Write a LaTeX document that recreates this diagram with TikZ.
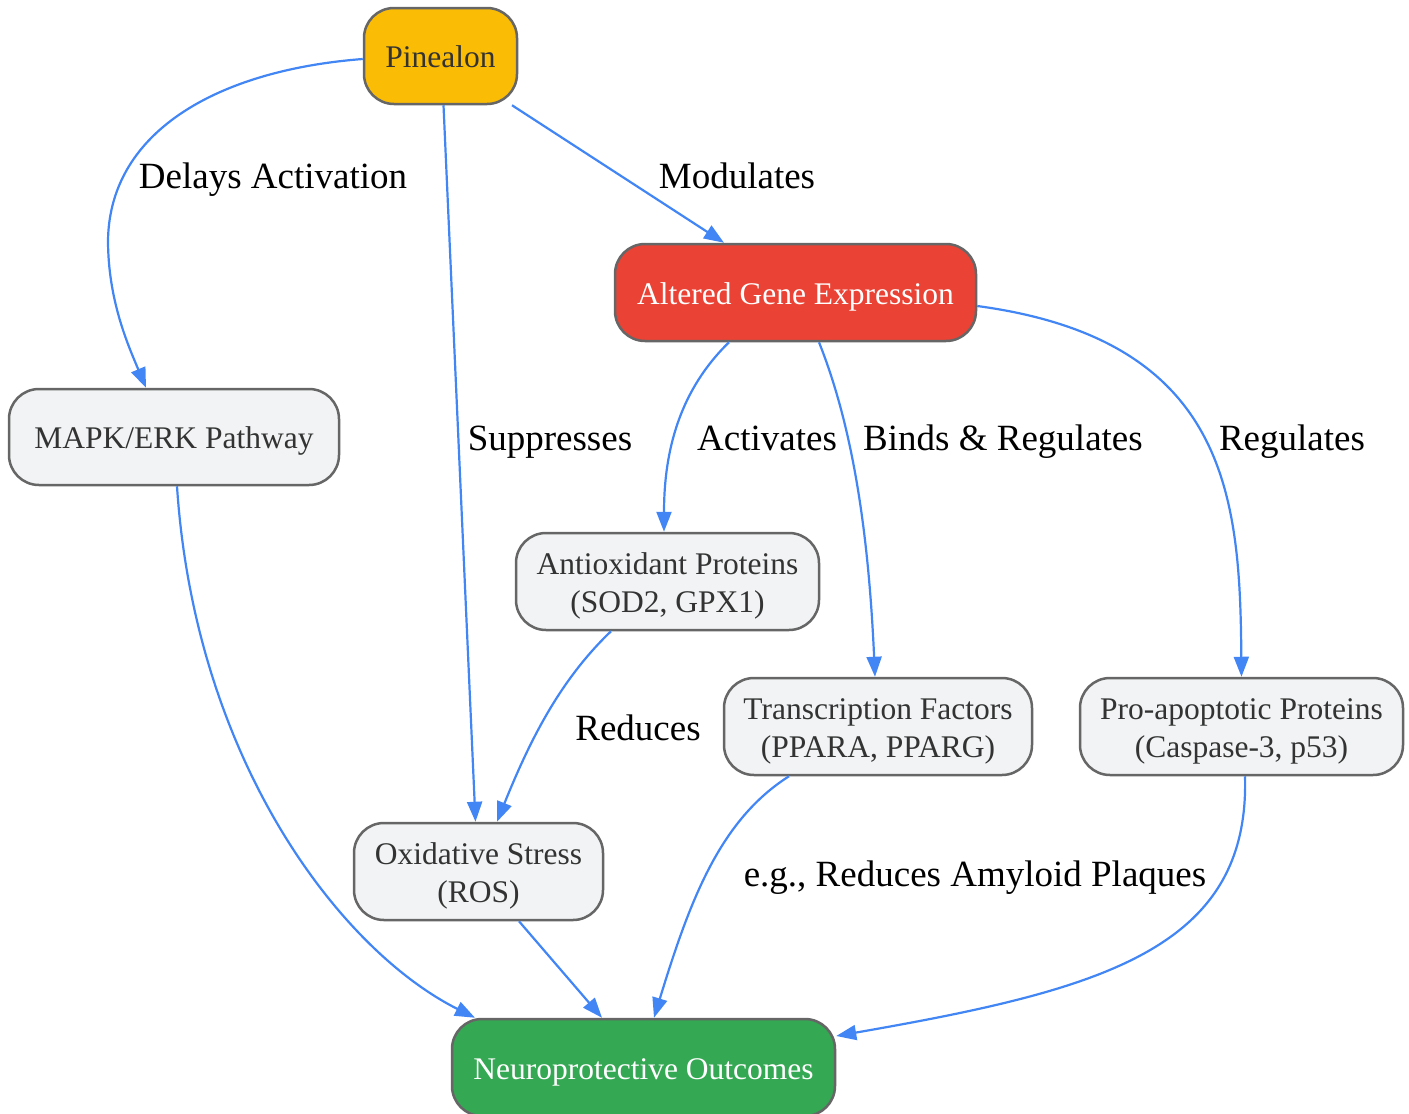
\documentclass[tikz,border=0pt]{standalone}
\usepackage{fontspec}
\setmainfont{Liberation Serif}
\usetikzlibrary{arrows.meta}
\definecolor{edgeblue}{HTML}{4285F4}
\definecolor{boxgray}{HTML}{F1F3F4}
\definecolor{bordergray}{HTML}{666666}
\definecolor{txtgray}{HTML}{333333}
\definecolor{pyellow}{HTML}{FBBC05}
\definecolor{pred}{HTML}{EA4335}
\definecolor{pgreen}{HTML}{34A853}
\newcommand\boxtext[1]{\raisebox{0pt}[\dimexpr\height+8pt\relax][\depth]{\begin{tabular}{@{}c@{}}#1\end{tabular}}}
\tikzset{
  box/.style={draw=bordergray, line width=2.5pt, rounded corners=30pt, fill=boxgray,
    text=txtgray, inner sep=0pt,
    font=\fontsize{31.5}{38}\selectfont},
  lbl/.style={text=black, inner sep=0pt, anchor=base, font=\fontsize{37}{44}\selectfont},
  conn/.style={draw=edgeblue, line width=2.2pt, -{Triangle[length=20pt,width=15pt]}},
}
\begin{document}
\begin{tikzpicture}[x=1pt,y=-1pt]
\useasboundingbox (0,0) rectangle (1409,1114);
% nodes
\node[box, fill=pyellow, minimum width=153pt, minimum height=96pt] (pin) at (440.5,56) {\boxtext{Pinealon}};
\node[box, fill=pred, text=white, minimum width=361pt, minimum height=97pt] (age) at (795.5,292.5) {\boxtext{Altered Gene Expression}};
\node[box, minimum width=330pt, minimum height=96pt] (mapk) at (174,437) {\boxtext{MAPK/ERK Pathway}};
\node[box, minimum width=303pt, minimum height=97pt] (anti) at (667.5,581.5) {\boxtext{Antioxidant Proteins\\(SOD2, GPX1)}};
\node[box, minimum width=308pt, minimum height=97pt] (tf) at (878,726.5) {\boxtext{Transcription Factors\\(PPARA, PPARG)}};
\node[box, minimum width=323pt, minimum height=97pt] (pro) at (1241.5,726.5) {\boxtext{Pro-apoptotic Proteins\\(Caspase-3, p53)}};
\node[box, minimum width=249pt, minimum height=97pt] (ox) at (478.5,871.5) {\boxtext{Oxidative Stress\\(ROS)}};
\node[box, fill=pgreen, text=white, minimum width=383pt, minimum height=97pt] (neuro) at (643.5,1067.5) {\boxtext{Neuroprotective Outcomes}};
% connectors
\draw[conn] ([yshift=-3]pin.west) .. controls (220,70) and (110,130) .. (108,240)
  .. controls (108,300) and (128,345) .. ([xshift=-28]mapk.north);
\draw[conn] ([xshift=3]pin.south) -- ([xshift=-3]ox.north);
\draw[conn] ([xshift=71.5]pin.south) -- ([xshift=-71.5]age.north);
\draw[conn] ([xshift=-66.5]age.south) .. controls (680,390) and (664,450) .. ([xshift=-3.5]anti.north);
\draw[conn] ([xshift=23.5]age.south) .. controls (850,420) and (868,520) .. ([xshift=-3]tf.north);
\draw[conn] ([yshift=-13.5]age.east) .. controls (1230,340) and (1240,500) .. (pro.north);
\draw[conn] ([xshift=3]mapk.south) .. controls (195,760) and (340,950) .. ([xshift=-168.5]neuro.north);
\draw[conn] ([xshift=-56.5]anti.south) .. controls (560,680) and (530,740) .. ([xshift=18.5]ox.north);
\draw[conn] ([xshift=40.5]ox.south) -- ([xshift=-41.5]neuro.north);
\draw[conn] ([xshift=-89]tf.south) .. controls (720,820) and (690,900) .. ([xshift=10.5]neuro.north);
\draw[conn] ([xshift=3.5]pro.south) .. controls (1250,950) and (1100,990) .. ([yshift=31.5]neuro.east);
% labels
\node[lbl] (l1) at (273,188.6) {Delays Activation};
\node[lbl] (l2) at (737,188.6) {Modulates};
\node[lbl] (l3) at (550,450.6) {Suppresses};
\node[lbl] (l4) at (767,450.6) {Activates};
\node[lbl] (l5) at (1003,450.6) {Binds \& Regulates};
\node[lbl] (l6) at (1292,450.6) {Regulates};
\node[lbl] (l7) at (638,740.6) {Reduces};
\node[lbl] (l8) at (975,886.6) {e.g., Reduces Amyloid Plaques};
\end{tikzpicture}
\end{document}
